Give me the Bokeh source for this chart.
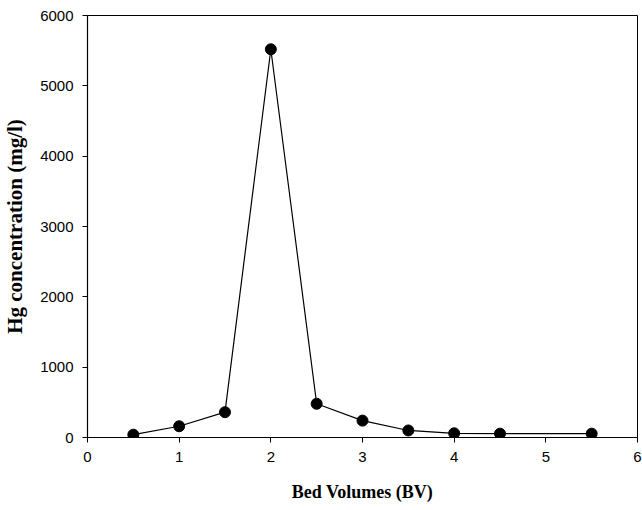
from bokeh.plotting import figure
from bokeh.models import Range1d, FixedTicker
from bokeh.embed import file_html
from bokeh.resources import INLINE

bed_volumes = [0.5, 1.0, 1.5, 2.0, 2.5, 3.0, 3.5, 4.0, 4.5, 5.5]
hg_conc = [40, 160, 360, 5520, 480, 240, 100, 60, 55, 55]
x_ticks = [0, 1, 2, 3, 4, 5, 6]
y_ticks = [0, 1000, 2000, 3000, 4000, 5000, 6000]

p = figure(width=642, height=510, output_backend="svg", toolbar_location=None,
           x_range=Range1d(0, 6), y_range=Range1d(0, 6000),
           min_border_left=87, min_border_right=5, min_border_top=15, min_border_bottom=73)
p.xgrid.visible = False
p.ygrid.visible = False
p.outline_line_color = "black"
p.outline_line_width = 1
p.background_fill_color = "white"
p.border_fill_color = "white"

p.line(bed_volumes, hg_conc, line_color="black", line_width=1.2)
p.scatter(bed_volumes, hg_conc, size=11, fill_color="black", line_color="black")

for ax in (p.xaxis[0], p.yaxis[0]):
    ax.axis_line_color = "black"
    ax.axis_line_width = 1.2
    ax.major_tick_line_color = "black"
    ax.major_tick_out = 5
    ax.major_tick_in = 0
    ax.minor_tick_line_color = None
    ax.major_label_text_font = "Liberation Sans"
    ax.major_label_text_font_size = "15px"
    ax.major_label_text_color = "black"
    ax.axis_label_text_font = "Liberation Serif"
    ax.axis_label_text_font_style = "bold"
    ax.axis_label_text_color = "black"

p.xaxis.ticker = FixedTicker(ticks=x_ticks)
p.yaxis.ticker = FixedTicker(ticks=y_ticks)
p.xaxis.axis_label = "Bed Volumes (BV)"
p.yaxis.axis_label = "Hg concentration (mg/l)"
p.xaxis.axis_label_text_font_size = "18px"
p.yaxis.axis_label_text_font_size = "21px"
p.xaxis.major_label_standoff = 9
p.yaxis.major_label_standoff = 9
p.xaxis.axis_label_standoff = 17
p.yaxis.axis_label_standoff = 10

open("out.html", "w").write(file_html(p, INLINE))
